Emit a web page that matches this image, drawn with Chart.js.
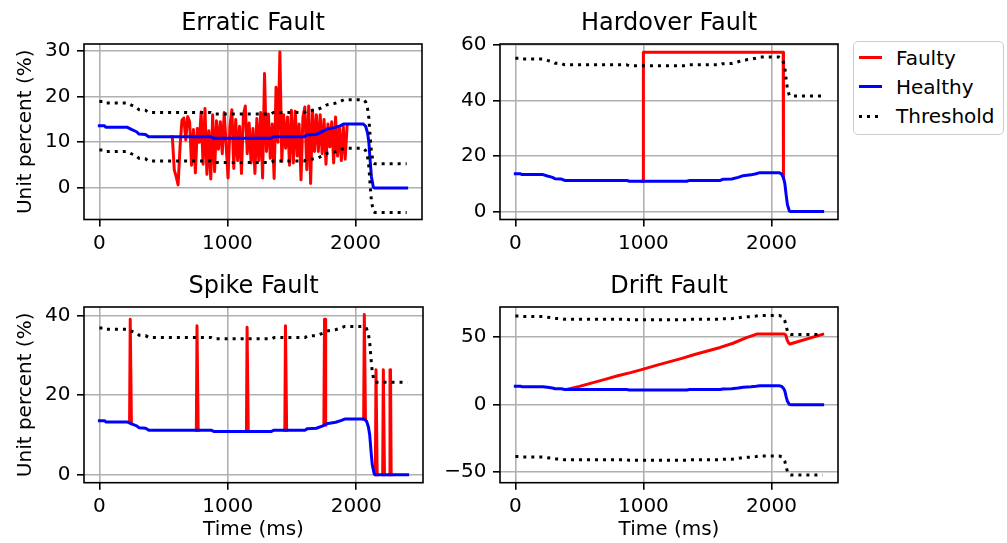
<!DOCTYPE html>
<html>
<head>
<meta charset="utf-8">
<script src="https://cdn.jsdelivr.net/npm/chart.js@4.4.1/dist/chart.umd.min.js"></script>
<style>
html,body{margin:0;padding:0;background:#fff;width:1007px;height:543px;overflow:hidden;font-family:"DejaVu Sans",sans-serif;}
canvas{position:absolute;display:block;}
#legend{position:absolute;left:853px;top:41px;width:151px;height:94px;box-sizing:border-box;border:1px solid #cccccc;border-radius:5px;background:#fff;}
.sw{position:absolute;left:859px;width:23px;height:3px;}
.lt{position:absolute;left:896px;font-family:"DejaVu Sans";font-size:20px;line-height:20px;color:#000;white-space:nowrap;}
</style>
</head>
<body>
<canvas id="cA" width="430" height="260" style="left:0;top:0;width:430px;height:260px"></canvas>
<canvas id="cB" width="420" height="260" style="left:430px;top:0;width:420px;height:260px"></canvas>
<canvas id="cC" width="430" height="283" style="left:0;top:260px;width:430px;height:283px"></canvas>
<canvas id="cD" width="420" height="283" style="left:430px;top:260px;width:420px;height:283px"></canvas>
<div id="legend"></div>
<div class="sw" style="top:56px;background:#ff0000"></div>
<div class="lt" style="top:48px">Faulty</div>
<div class="sw" style="top:85px;background:#0000ff"></div>
<div class="lt" style="top:77px">Healthy</div>
<div class="sw" style="top:114.5px;background:repeating-linear-gradient(to right,#000 0 3px,transparent 3px 8px)"></div>
<div class="lt" style="top:106px">Threshold</div>
<script>
// ---------- DATA ----------
const titles = ['Erratic Fault', 'Hardover Fault', 'Spike Fault', 'Drift Fault'];
const xTicks = [0, 1000, 2000];
const yTicksA = [0, 10, 20, 30];
const yTicksB = [0, 20, 40, 60];
const yTicksC = [0, 20, 40];
const yTicksD = [-50, 0, 50];

// Healthy signal (same in all four panels)
const healthyT = [0, 40, 50, 215, 250, 290, 310, 360, 385, 870, 890, 1340, 1360, 1600, 1620, 1690, 1740, 1780, 1840, 1880, 1910, 2060, 2080, 2095, 2105, 2115, 2125, 2140, 2150, 2400];
const healthyV = [13.6, 13.6, 13.3, 13.3, 12.8, 12.3, 11.8, 11.7, 11.2, 11.2, 10.9, 10.9, 11.2, 11.2, 11.6, 11.7, 12.3, 12.9, 13.2, 13.6, 14.0, 14.0, 13.5, 12.0, 10.0, 6.0, 2.5, 0.2, 0.0, 0.0];

// Thresholds (on healthyT grid)
const erraticUpper = [18.9, 18.9, 18.6, 18.6, 18.1, 17.6, 17.1, 17.0, 16.5, 16.5, 16.2, 16.2, 16.5, 16.5, 16.9, 17.0, 17.6, 18.2, 18.5, 18.9, 19.3, 19.3, 18.8, 17.3, 15.3, 11.3, 7.8, 5.5, 5.3, 5.3];
const erraticLower = [8.3, 8.3, 8.0, 8.0, 7.5, 7.0, 6.5, 6.4, 5.9, 5.9, 5.6, 5.6, 5.9, 5.9, 6.3, 6.4, 7.0, 7.6, 7.9, 8.3, 8.7, 8.7, 8.2, 6.7, 4.7, 0.7, -2.8, -5.1, -5.3, -5.3];
const hardoverUpper = [55.2, 55.2, 54.9, 54.9, 54.4, 53.9, 53.4, 53.3, 52.8, 52.8, 52.5, 52.5, 52.8, 52.8, 53.2, 53.3, 53.9, 54.5, 54.8, 55.2, 55.6, 55.6, 55.1, 53.6, 51.6, 47.6, 44.1, 41.8, 41.6, 41.6];
const spikeUpper = [36.9, 36.9, 36.6, 36.6, 36.1, 35.6, 35.1, 35.0, 34.5, 34.5, 34.2, 34.2, 34.5, 34.5, 34.9, 35.0, 35.6, 36.2, 36.5, 36.9, 37.3, 37.3, 36.8, 35.3, 33.3, 29.3, 25.8, 23.5, 23.3, 23.3];
const driftUpper = [65.5, 65.5, 65.2, 65.2, 64.7, 64.2, 63.7, 63.6, 63.1, 63.1, 62.8, 62.8, 63.1, 63.1, 63.5, 63.6, 64.2, 64.8, 65.1, 65.5, 65.9, 65.9, 65.4, 63.9, 61.9, 57.9, 54.4, 52.1, 51.9, 51.9];
const driftLower = [-38.4, -38.4, -38.7, -38.7, -39.2, -39.7, -40.2, -40.3, -40.8, -40.8, -41.1, -41.1, -40.8, -40.8, -40.4, -40.3, -39.7, -39.1, -38.8, -38.4, -38.0, -38.0, -38.5, -40.0, -42.0, -46.0, -49.5, -51.8, -52.0, -52.0];

// Faulty: erratic
const erraticT = [570, 585, 600, 615, 630, 645, 660, 675, 690, 705,
  720, 735, 750, 765, 780, 795, 810, 825, 840, 855,
  870, 885, 900, 915, 930, 945, 960, 975, 990, 1005,
  1020, 1035, 1050, 1065, 1080, 1095, 1110, 1125, 1140, 1155,
  1170, 1185, 1200, 1215, 1230, 1245, 1260, 1275, 1290, 1305,
  1320, 1335, 1350, 1365, 1380, 1395, 1410, 1425, 1440, 1455,
  1470, 1485, 1500, 1515, 1530, 1545, 1560, 1575, 1590, 1605,
  1620, 1635, 1650, 1665, 1680, 1695, 1710, 1725, 1740, 1755,
  1770, 1785, 1800, 1815, 1830, 1845, 1860, 1875, 1890, 1905,
  1920, 1935];
const erraticV = [11.2, 4.0, 2.5, 0.7, 9.0, 14.8, 15.3, 10.5, 15.6, 14.5,
  5.0, 12.8, 3.3, 13.0, 10.0, 16.6, 5.2, 17.4, 3.0, 12.5,
  2.0, 16.0, 3.6, 14.7, 8.5, 14.5, 7.5, 16.5, 9.5, 2.2,
  13.5, 17.1, 4.3, 15.0, 6.0, 13.5, 3.2, 16.0, 17.9, 7.5,
  14.2, 5.5, 13.0, 3.2, 15.2, 6.0, 16.5, 2.2, 25.0, 8.0,
  16.2, 6.5, 14.0, 2.1, 22.0, 10.0, 29.7, 5.8, 16.0, 8.7,
  15.5, 5.0, 17.0, 5.5, 16.8, 7.0, 14.0, 1.8, 15.5, 17.7,
  4.0, 17.9, 1.0, 17.0, 8.0, 16.0, 8.0, 16.0, 7.5, 15.0,
  5.2, 14.0, 9.0, 14.5, 5.5, 15.5, 7.0, 13.2, 6.0, 13.5,
  6.3, 13.6];

// Faulty: hardover
const hardoverT = [990, 1000, 1000, 2092, 2094];
const hardoverV = [10.9, 10.9, 57.3, 57.3, 12.1];

// Faulty: spikes (null separates spikes)
const spikeT = [235,240,244,249,249, 755,760,764,769,769, 1145,1150,1154,1159,1159, 1444,1449,1453,1458,1458, 1748,1753,1757,1762,1762, 2058,2063,2067,2072,2072, 2149,2154,2158,2163,2163, 2206,2211,2215,2220,2220, 2258,2263,2267,2272];
const spikeV = [13.3,39.1,39.1,13.3,null, 11.2,37.5,37.5,11.2,null, 10.9,37.1,37.1,10.9,null, 11.2,37.5,37.5,11.2,null, 12.5,39.1,39.1,12.5,null, 14.0,40.3,40.3,14.0,null, 0.0,26.4,26.4,0.0,null, 0.0,26.4,26.4,0.0,null, 0.0,26.4,26.4,0.0];

// Faulty: drift
const driftT = [400, 500, 600, 700, 800, 900, 1000, 1100, 1200, 1300, 1400, 1500, 1600, 1700, 1800, 1885, 2100, 2112, 2122, 2135, 2145, 2400];
const driftV = [11.2, 13.5, 16.1, 18.7, 21.4, 23.7, 26.3, 29.0, 31.6, 34.2, 37.1, 39.7, 42.3, 45.4, 49.4, 52.2, 52.2, 51.5, 48.0, 45.5, 44.8, 52.0];

// ---------- DRAWING ----------
Chart.defaults.font.family = 'DejaVu Sans';
Chart.defaults.color = '#000';
const RED = '#ff0000', BLUE = '#0000ff', BLACK = '#000000';
const pts = (ts, vs) => ts.map((t, i) => ({x: t, y: vs[i]}));
const ds = (data, color, dotted, order) => ({
  data, borderColor: color, backgroundColor: color, borderWidth: 3, pointRadius: 0, pointHoverRadius: 0,
  fill: false, tension: 0, borderDash: dotted ? [3, 5] : [], borderCapStyle: dotted ? 'butt' : 'square',
  borderJoinStyle: 'round', order, spanGaps: false
});
const fmt = v => v < 0 ? '\u2212' + Math.abs(v) : String(v);
const frame = {
  id: 'frame',
  afterDatasetsDraw(chart) {
    const a = chart.chartArea, ctx = chart.ctx;
    ctx.save();
    ctx.strokeStyle = '#000';
    ctx.lineWidth = 1.6;
    ctx.strokeRect(a.left, a.top, a.right - a.left, a.bottom - a.top);
    ctx.restore();
  }
};

function make(id, o) {
  return new Chart(document.getElementById(id), {
    type: 'line',
    data: {datasets: o.datasets},
    options: {
      responsive: false, animation: false, devicePixelRatio: 1,
      events: [],
      layout: {padding: {top: 0, left: 0, bottom: 0, right: o.padRight}},
      plugins: {
        legend: {display: false}, tooltip: {enabled: false},
        title: {display: true, text: o.title, fullSize: false, color: '#000',
          font: {family: 'DejaVu Sans', size: 24, weight: 'normal', lineHeight: 1.2},
          padding: {top: o.tTop, bottom: o.tBottom}}
      },
      scales: {
        x: {
          type: 'linear', min: -120, max: 2520,
          afterBuildTicks: s => { s.ticks = xTicks.map(v => ({value: v})); },
          afterFit: s => { s.height = o.xH; },
          grid: {color: '#b0b0b0', lineWidth: 1.6, drawTicks: true, tickLength: 7, tickColor: '#000', tickWidth: 1.6},
          border: {display: false},
          ticks: {font: {size: 20}, color: '#000', padding: 5, maxRotation: 0, minRotation: 0, autoSkip: false, callback: fmt},
          title: {display: o.xTitle, text: 'Time (ms)', color: '#000', font: {size: 20, lineHeight: 1.2}, padding: {top: 0, bottom: 1}}
        },
        y: {
          type: 'linear', min: o.ymin, max: o.ymax,
          afterBuildTicks: s => { s.ticks = o.yTicks.map(v => ({value: v})); },
          afterFit: s => { s.width = o.yW; },
          grid: {color: '#b0b0b0', lineWidth: 1.6, drawTicks: true, tickLength: 7, tickColor: '#000', tickWidth: 1.6},
          border: {display: false},
          ticks: {font: {size: 20}, color: '#000', padding: 6.5, autoSkip: false, callback: fmt},
          title: {display: o.yTitle, text: 'Unit percent (%)', color: '#000', font: {size: 20, lineHeight: 1.2}, padding: {top: 13.7, bottom: 0}}
        }
      }
    },
    plugins: [frame]
  });
}

const healthy = pts(healthyT, healthyV);

make('cA', {
  title: titles[0], padRight: 8, xH: 40.5, yW: 84, tTop: 9.6, tBottom: 5.6, xTitle: false, yTitle: true,
  ymin: -6.85, ymax: 31.45, yTicks: yTicksA,
  datasets: [
    ds(pts(healthyT, erraticUpper), BLACK, true, 1),
    ds(pts(healthyT, erraticLower), BLACK, true, 1),
    ds(healthy, BLUE, false, 2),
    ds(pts(erraticT, erraticV), RED, false, 3)
  ]
});
make('cB', {
  title: titles[1], padRight: 12, xH: 40.5, yW: 70, tTop: 9.6, tBottom: 5.6, xTitle: false, yTitle: false,
  ymin: -2.87, ymax: 60.3, yTicks: yTicksB,
  datasets: [
    ds(pts(healthyT, hardoverUpper), BLACK, true, 1),
    ds(healthy, BLUE, false, 2),
    ds(pts(hardoverT, hardoverV), RED, false, 3)
  ]
});
make('cC', {
  title: titles[2], padRight: 7, xH: 60.3, yW: 84, tTop: 12.3, tBottom: 5.9, xTitle: true, yTitle: true,
  ymin: -2.0, ymax: 42.2, yTicks: yTicksC,
  datasets: [
    ds(pts(healthyT, spikeUpper), BLACK, true, 1),
    ds(healthy, BLUE, false, 2),
    ds(pts(spikeT, spikeV), RED, false, 3)
  ]
});
make('cD', {
  title: titles[3], padRight: 12, xH: 60.3, yW: 70, tTop: 12.3, tBottom: 5.9, xTitle: true, yTitle: false,
  ymin: -57.7, ymax: 72.2, yTicks: yTicksD,
  datasets: [
    ds(pts(healthyT, driftUpper), BLACK, true, 1),
    ds(pts(healthyT, driftLower), BLACK, true, 1),
    ds(healthy, BLUE, false, 2),
    ds(pts(driftT, driftV), RED, false, 3)
  ]
});
</script>
</body>
</html>
